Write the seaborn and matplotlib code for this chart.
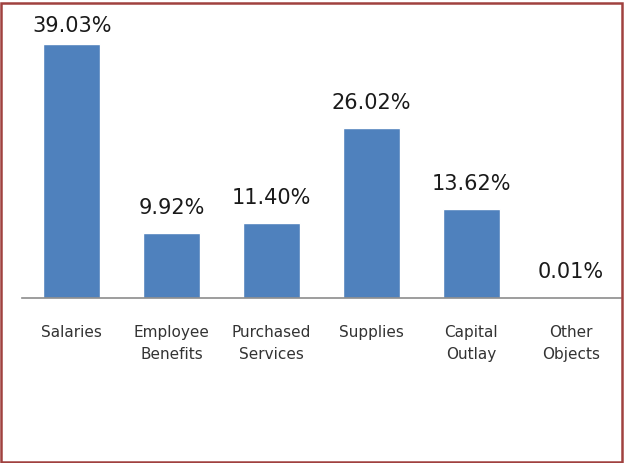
import matplotlib
matplotlib.use("Agg")
import matplotlib.pyplot as plt
import seaborn as sns
import pandas as pd
from matplotlib.patches import Rectangle

categories = ["Salaries", "Employee\nBenefits", "Purchased\nServices", "Supplies", "Capital\nOutlay", "Other\nObjects"]
shares = [39.03, 9.92, 11.40, 26.02, 13.62, 0.01]
value_labels = ["39.03%", "9.92%", "11.40%", "26.02%", "13.62%", "0.01%"]

sns.set_theme(style="white")
plt.rcParams["font.family"] = ["DejaVu Sans"]

df = pd.DataFrame({"category": categories, "share": shares})

W, H, DPI = 624, 464, 100
fig = plt.figure(figsize=(W / DPI, H / DPI), dpi=DPI)
fig.patch.set_facecolor("white")
ax = fig.add_axes([22 / W, 1 - 298.5 / H, 599 / W, 260 / H])

sns.barplot(data=df, x="category", y="share", color="#4F81BD", saturation=1,
            width=0.57, ax=ax)

ax.set_ylim(0, 40)
ax.set_xlim(-0.5, len(categories) - 0.5)
ax.set_xlabel("")
ax.set_ylabel("")
ax.set_yticks([])
for side in ["top", "right", "left"]:
    ax.spines[side].set_visible(False)
ax.spines["bottom"].set_color("#8C8C8C")
ax.spines["bottom"].set_linewidth(1.2)
ax.tick_params(axis="x", length=0, pad=19, labelsize=11, labelcolor="#333333")
for t in ax.get_xticklabels():
    t.set_linespacing(1.6)
    t.set_verticalalignment("top")

# value labels sit above each bar, pulled down when they would leave the figure
fig.canvas.draw()
px_per_unit = ax.bbox.height / (ax.get_ylim()[1] - ax.get_ylim()[0])
for i, (v, lab) in enumerate(zip(shares, value_labels)):
    bar_top_from_fig_top = H - (ax.bbox.y0 + v * px_per_unit)
    gap_px = min(26, bar_top_from_fig_top - 26)
    ax.annotate(lab, (i, v), xytext=(0, gap_px * 72 / DPI), textcoords="offset points",
                ha="center", va="center", fontsize=15, color="#1A1A1A",
                annotation_clip=False)

fig.add_artist(Rectangle((1 / W, 1.5 / H), 620.5 / W, 458.5 / H,
                         transform=fig.transFigure, fill=False,
                         edgecolor="#A0413F", linewidth=1.8))

fig.savefig("out.png", dpi=DPI, facecolor="white")
